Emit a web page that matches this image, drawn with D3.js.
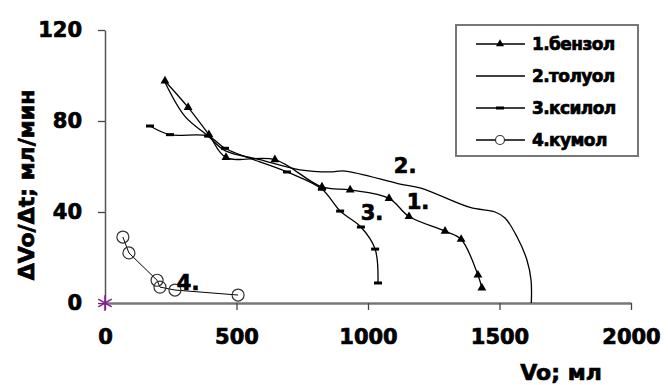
<!DOCTYPE html>
<html>
<head>
<meta charset="utf-8">
<script src="https://cdn.jsdelivr.net/npm/d3@7"></script>
<style>
  body { margin: 0; background: #fff; }
  text { font-family: "DejaVu Sans", sans-serif; font-weight: bold; fill: #000; stroke: #000; stroke-width: 0.7px; }
</style>
</head>
<body>
<svg id="chart" width="668" height="385"></svg>
<script>
const seriesNames = ['1.бензол', '2.толуол', '3.ксилол', '4.кумол'];

// бензол
const benzX = [228, 316, 395, 460, 646, 825, 932, 1080, 1156, 1293, 1354, 1418, 1433];
const benzY = [97.6, 86, 74, 64, 63, 51, 49.7, 46, 38, 31.6, 28, 12.3, 6.6];
// толуол (no markers)
const tolX = [228, 304, 392, 456, 589, 741, 855, 912, 1122, 1201, 1388, 1483, 1521, 1567, 1604, 1620, 1621];
const tolY = [97, 82, 73.4, 67, 63, 58.5, 57.6, 58, 52.3, 50.5, 42, 40, 37.4, 29, 19, 10, 0];
// ксилол
const xylX = [171, 247, 392, 456, 692, 825, 894, 973, 1027, 1038];
const xylY = [77.8, 74, 73.4, 68, 57.6, 50, 40.4, 33.4, 23.7, 8.8];
// кумол
const cumX = [68, 91, 198, 209, 266, 506];
const cumY = [29, 22, 10, 7, 5.7, 3.5];

const xTicks = [0, 500, 1000, 1500, 2000];
const yTicks = [0, 40, 80, 120];
const curveTags = ['1.', '2.', '3.', '4.'];
const tagX = [1190, 1141, 1015, 316];
const tagY = [45, 60.7, 40, 9.2];

const svg = d3.select('#chart');
const x = d3.scaleLinear().domain([0, 2000]).range([105, 631]);
const y = d3.scaleLinear().domain([0, 120]).range([303, 30]);

const zip = (a, b) => a.map((v, i) => [v, b[i]]);
const benz = zip(benzX, benzY);
const tol = zip(tolX, tolY);
const xyl = zip(xylX, xylY);
const cum = zip(cumX, cumY);

// axes
const gx = svg.append('g')
  .attr('transform', 'translate(0,' + y(0) + ')')
  .call(d3.axisBottom(x).tickValues(xTicks).tickFormat(d3.format('d')).tickSize(7).tickSizeOuter(0).tickPadding(19));
const gy = svg.append('g')
  .attr('transform', 'translate(' + x(0) + ',0)')
  .call(d3.axisLeft(y).tickValues(yTicks).tickFormat(d3.format('d')).tickSize(7).tickSizeOuter(0).tickPadding(16));
gx.select('.domain').attr('stroke', '#777').attr('stroke-width', 2.5);
gy.select('.domain').attr('stroke', '#555').attr('stroke-width', 1.5);
svg.selectAll('.tick line').attr('stroke', '#444').attr('stroke-width', 1.3);
svg.selectAll('.tick text').attr('font-size', 21).attr('font-family', 'DejaVu Sans').attr('font-weight', 'bold').attr('fill', '#000');

svg.append('text')
  .attr('transform', 'translate(34,185) rotate(-90)')
  .attr('text-anchor', 'middle')
  .attr('font-size', 22)
  .text('ΔVo/Δt; мл/мин');
svg.append('text')
  .attr('x', 561).attr('y', 380)
  .attr('text-anchor', 'middle')
  .attr('font-size', 22)
  .text('Vo; мл');

const smooth = d3.line().x(d => x(d[0])).y(d => y(d[1])).curve(d3.curveCatmullRom.alpha(0.5));
const straight = d3.line().x(d => x(d[0])).y(d => y(d[1]));

svg.append('path').datum(tol).attr('d', smooth).attr('fill', 'none').attr('stroke', '#000').attr('stroke-width', 1.3);
svg.append('path').datum(xyl).attr('d', smooth).attr('fill', 'none').attr('stroke', '#000').attr('stroke-width', 1.3);
svg.append('path').datum(benz).attr('d', smooth).attr('fill', 'none').attr('stroke', '#000').attr('stroke-width', 1.3);
svg.append('path').datum(cum).attr('d', straight).attr('fill', 'none').attr('stroke', '#000').attr('stroke-width', 1);

const tri = d3.symbol(d3.symbolTriangle, 34);
svg.selectAll('.tri').data(benz).join('path')
  .attr('class', 'tri')
  .attr('transform', d => 'translate(' + x(d[0]) + ',' + y(d[1]) + ')')
  .attr('d', tri).attr('fill', '#000');

svg.selectAll('.dash').data(xyl).join('rect')
  .attr('class', 'dash')
  .attr('x', d => x(d[0]) - 4).attr('y', d => y(d[1]) - 1.5)
  .attr('width', 8).attr('height', 3).attr('fill', '#000');

svg.selectAll('.circ').data(cum).join('circle')
  .attr('class', 'circ')
  .attr('cx', d => x(d[0])).attr('cy', d => y(d[1])).attr('r', 6)
  .attr('fill', 'none').attr('stroke', '#333').attr('stroke-width', 1.2);

// marker at origin
svg.append('path')
  .attr('transform', 'translate(' + x(0) + ',' + y(0) + ')')
  .attr('d', d3.symbol(d3.symbolAsterisk, 170)())
  .attr('fill', 'none').attr('stroke', '#8a1a9a').attr('stroke-width', 1.6);

// curve numbers
svg.selectAll('.tag').data(curveTags).join('text')
  .attr('class', 'tag')
  .attr('x', (d, i) => x(tagX[i])).attr('y', (d, i) => y(tagY[i]) + 8)
  .attr('text-anchor', 'middle')
  .attr('font-size', 21)
  .text(d => d);

// legend
const lg = svg.append('g');
lg.append('rect').attr('x', 456).attr('y', 25).attr('width', 182).attr('height', 131)
  .attr('fill', '#fff').attr('stroke', '#777').attr('stroke-width', 2);
const rows = lg.selectAll('.row').data(seriesNames).join('g')
  .attr('class', 'row')
  .attr('transform', (d, i) => 'translate(0,' + (44 + i * 32) + ')');
rows.append('line').attr('x1', 476).attr('x2', 525).attr('stroke', '#000').attr('stroke-width', 1.3);
rows.append('text').attr('x', 532).attr('y', 6).attr('font-size', 17).attr('letter-spacing', -0.6).text(d => d);
rows.filter((d, i) => i === 0).append('path')
  .attr('transform', 'translate(500,0)').attr('d', d3.symbol(d3.symbolTriangle, 28)()).attr('fill', '#000');
rows.filter((d, i) => i === 2).append('rect')
  .attr('x', 496).attr('y', -1.5).attr('width', 8).attr('height', 3).attr('fill', '#000');
rows.filter((d, i) => i === 3).append('circle')
  .attr('cx', 500).attr('cy', 0).attr('r', 4.5).attr('fill', '#fff').attr('stroke', '#333').attr('stroke-width', 1.2);
</script>
</body>
</html>
